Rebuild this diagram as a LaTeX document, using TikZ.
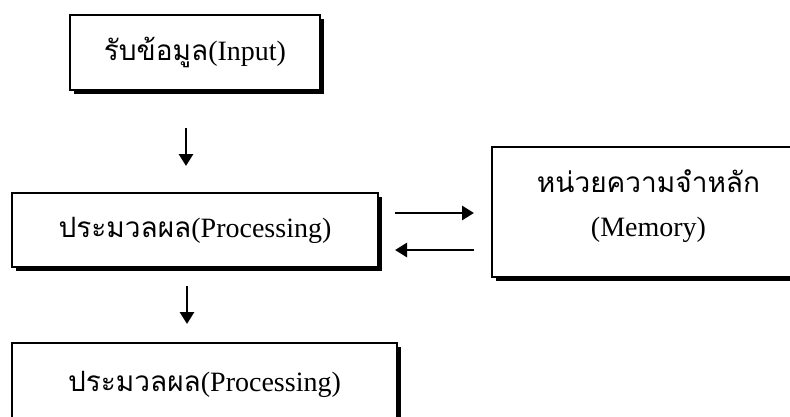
\documentclass[tikz,border=0pt]{standalone}
\usepackage{fontspec}
\setmainfont{Liberation Serif}
\newfontfamily\thai[Script=Thai]{Loma}
\usetikzlibrary{shadows,arrows.meta}
\tikzset{
  box/.style={draw=black, line width=1.4pt, fill=white, inner sep=0pt,
    general shadow={fill=black, shadow xshift=4pt, shadow yshift=-4pt},
    font=\fontsize{28}{44}\selectfont, align=center},
  arr/.style={line width=2.8pt, -{Triangle[length=12pt,width=14pt]}}
}
\begin{document}
\begin{tikzpicture}[x=1pt,y=-1pt]
\useasboundingbox (0,0) rectangle (790,416);
\clip (0,0) rectangle (790,416);
\node[box, minimum width=250pt, minimum height=75pt] (in) at (195,52.5) {{\thai รับข้อมูล}(Input)};
\node[box, minimum width=366pt, minimum height=74pt] (proc) at (195,230) {{\thai ประมวลผล}(Processing)};
\node[box, minimum width=313pt, minimum height=130pt] (mem) at (648.5,212) {\raisebox{6pt}[\height][\depth]{\begin{tabular}{@{}c@{}}{\thai หน่วยความจำหลัก}\\(Memory)\end{tabular}}};
\node[box, minimum width=385pt, minimum height=82pt] (out) at (204.5,384) {{\thai ประมวลผล}(Processing)};
\coordinate (a1s) at (186,128);
\coordinate (a1e) at (186,166);
\coordinate (a2s) at (187,286);
\coordinate (a2e) at (187,324);
\coordinate (r1s) at (395,213);
\coordinate (r1e) at (474,213);
\coordinate (l1s) at (474,250);
\coordinate (l1e) at (395,250);
\draw[arr] (a1s) -- (a1e);
\draw[arr] (a2s) -- (a2e);
\draw[arr] (r1s) -- (r1e);
\draw[arr] (l1s) -- (l1e);
\end{tikzpicture}
\end{document}
